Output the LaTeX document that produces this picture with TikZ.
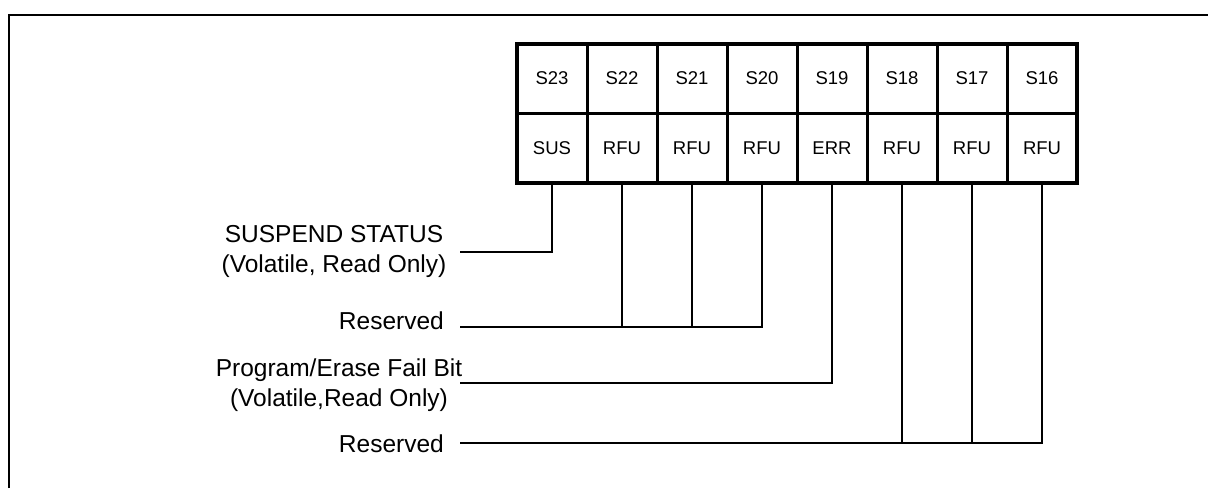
\documentclass[tikz,border=0pt]{standalone}
\usepackage{fontspec}
\setmainfont{Liberation Sans}
\usetikzlibrary{positioning}

\tikzset{
    bitcell/.style={draw, line width=3pt, minimum width=70pt, minimum height=69.5pt,
        outer sep=0pt, inner sep=0pt, font=\fontsize{18.5}{22}\selectfont},
    lbl/.style={align=center, inner sep=0pt, font=\fontsize{24.5}{30}\selectfont},
    wire/.style={line width=2pt}
}

\begin{document}
\begin{tikzpicture}[x=1pt,y=1pt]
    \useasboundingbox[fill=white] (0,0) rectangle (1208,488);

    % Frame, open to the right and bottom
    \draw[line width=2.5pt] (9,0) -- (9,473) -- (1208,473);

    % Register bits
    \foreach \i/\n/\f in {0/23/SUS, 1/22/RFU, 2/21/RFU, 3/20/RFU,
                          4/19/ERR, 5/18/RFU, 6/17/RFU, 7/16/RFU} {
        \node[bitcell] (s\n) at (552+70*\i, 409.5) {S\n};
        \node[bitcell] (c\n) at (552+70*\i, 340) {\f};
    }
    \draw[line width=4pt] (s23.north west) rectangle (c16.south east);

    % Descriptions
    \node[lbl] (sustxt) at (334,237) {SUSPEND STATUS\\(Volatile, Read Only)};
    \node[lbl, anchor=east] (rsva) at (444,167) {Reserved};
    \node[lbl] (errtxt) at (339,103) {Program/Erase Fail Bit\\(Volatile,Read Only)};
    \node[lbl, anchor=east] (rsvb) at (444,44.5) {Reserved};

    \coordinate (susend) at (460,236);
    \coordinate (rsvaend) at (460,161);
    \coordinate (errend) at (460,105);
    \coordinate (rsvbend) at (460,45);

    % Bit lines
    \draw[wire] (c23.south) |- (susend);
    \draw[wire] (c20.south) |- (rsvaend);
    \foreach \n in {22,21}
        \draw[wire] (c\n.south) -- (c\n.south |- rsvaend);
    \draw[wire] (c19.south) |- (errend);
    \draw[wire] (c16.south) |- (rsvbend);
    \foreach \n in {18,17}
        \draw[wire] (c\n.south) -- (c\n.south |- rsvbend);
\end{tikzpicture}
\end{document}
